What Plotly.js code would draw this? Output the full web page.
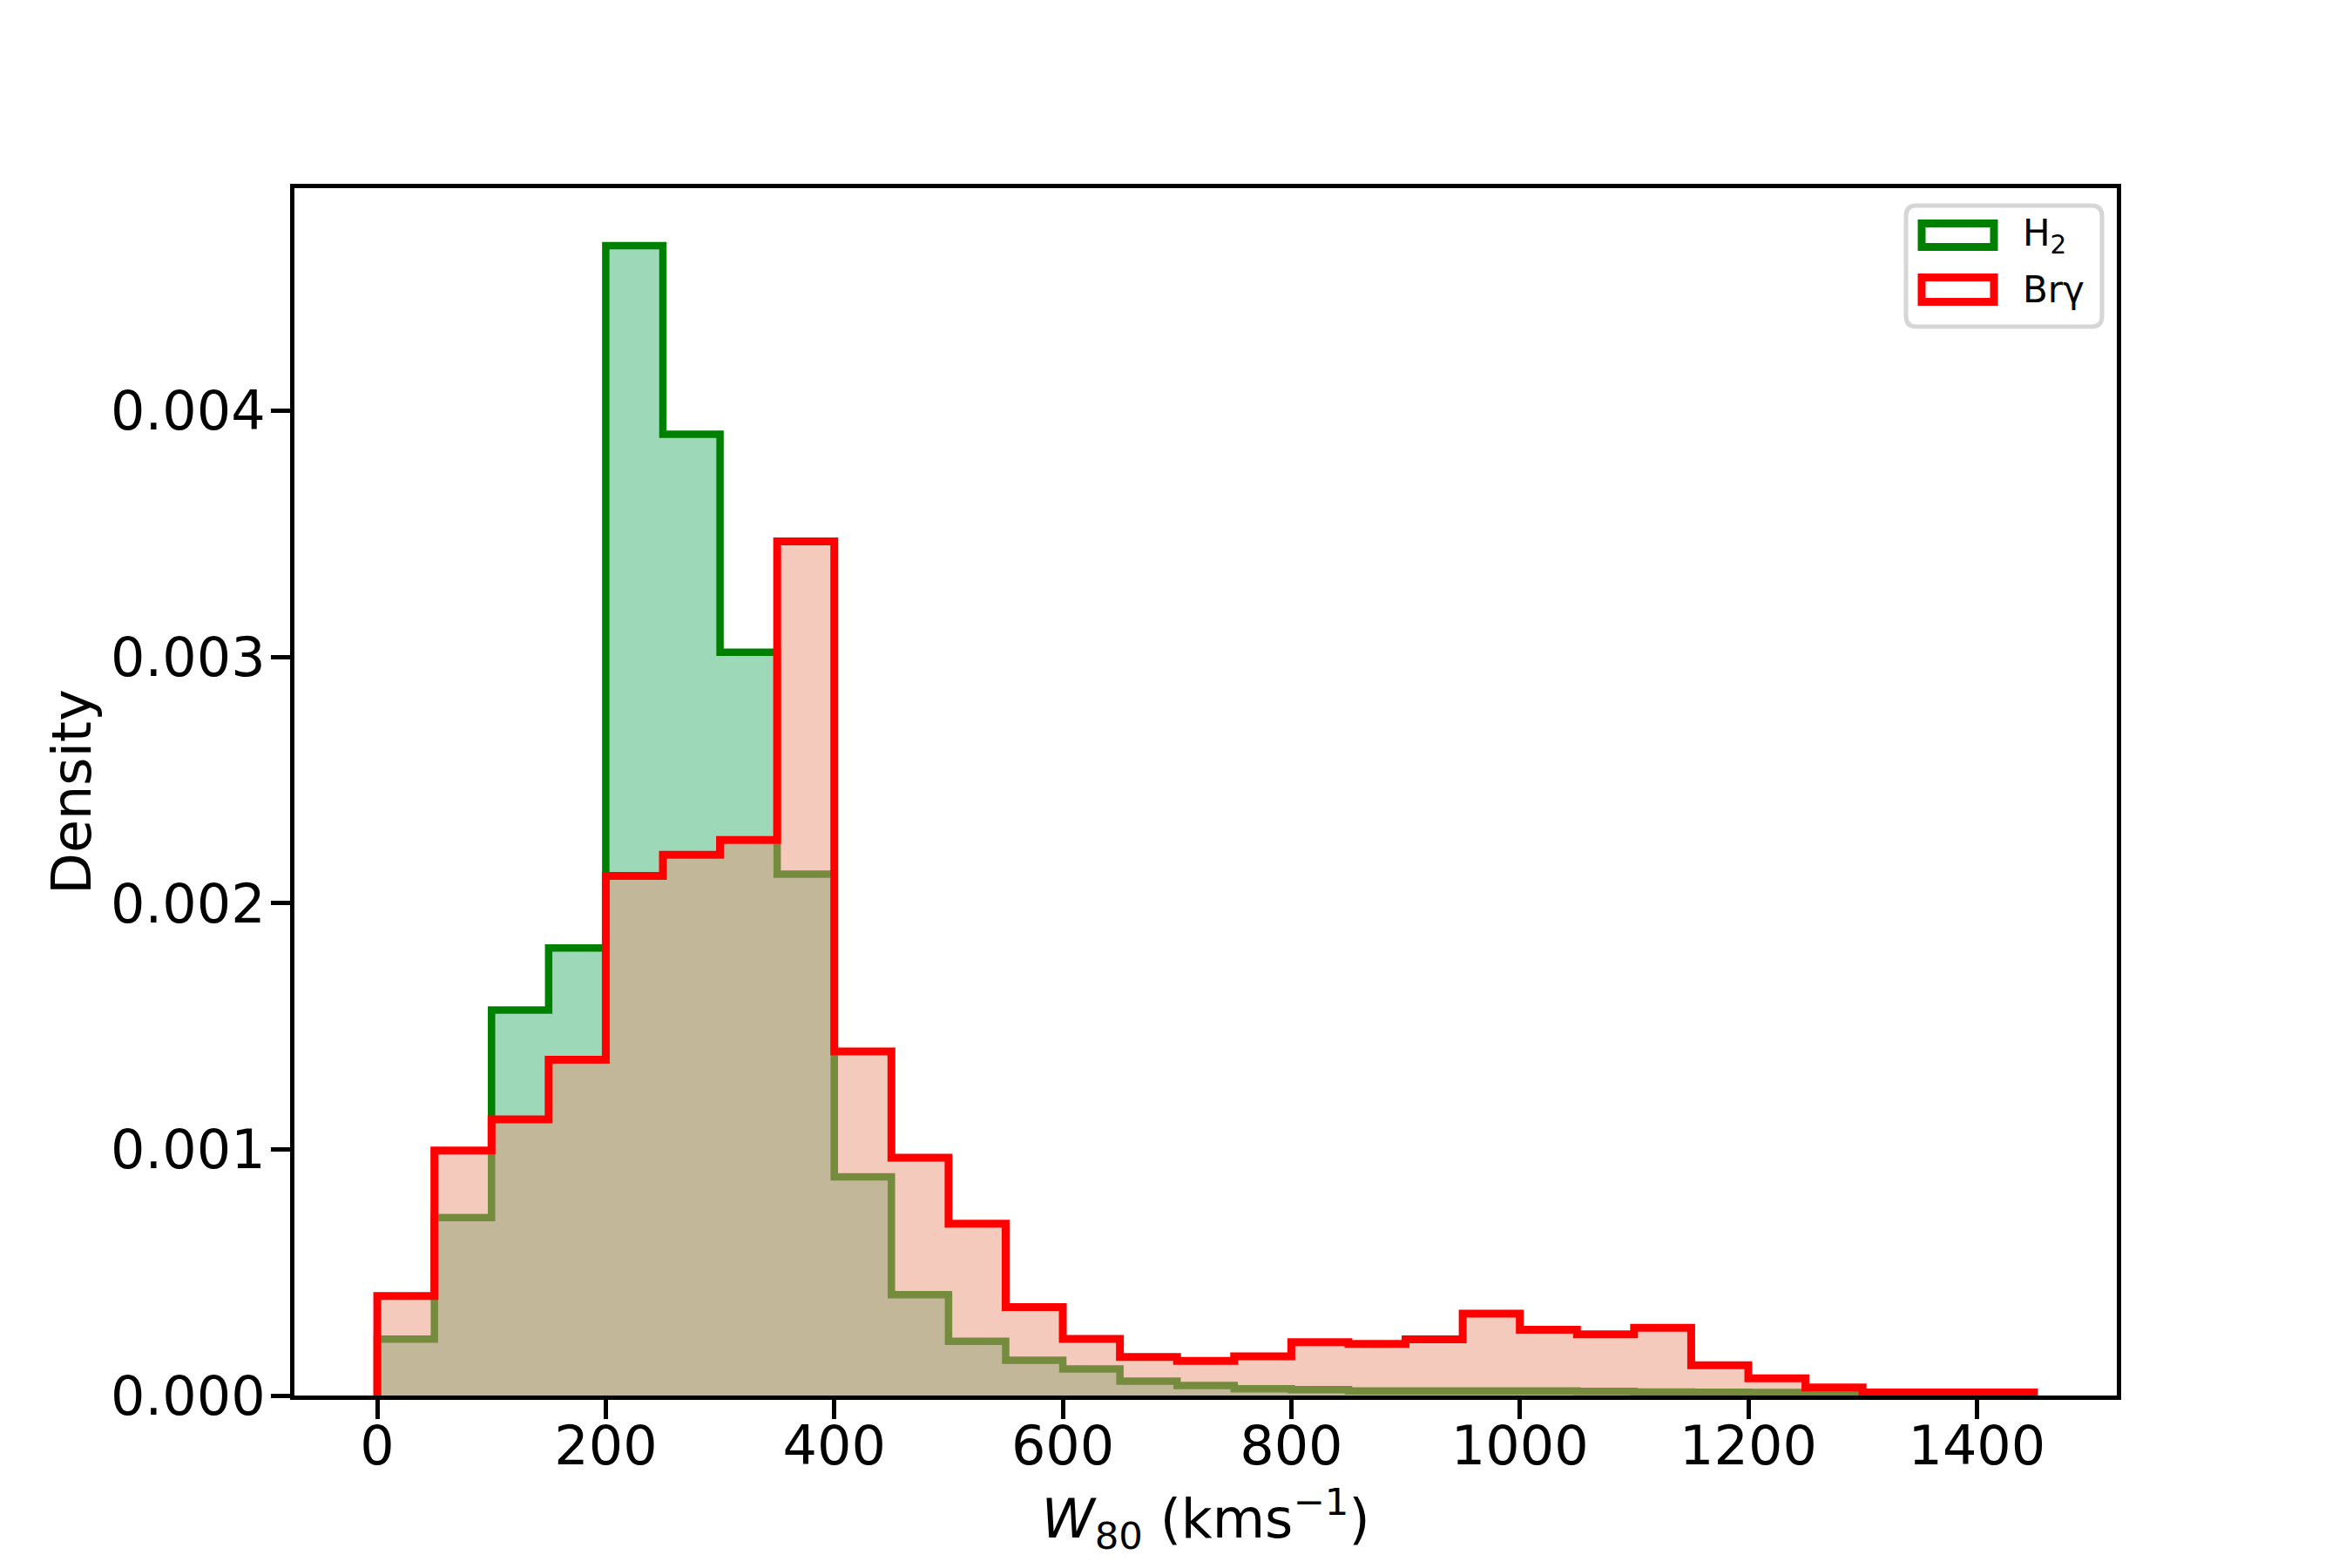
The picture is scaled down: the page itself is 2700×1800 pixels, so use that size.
<!DOCTYPE html>
<html>
<head>
<meta charset="utf-8">
<script src="https://cdn.plot.ly/plotly-3.0.1.min.js"></script>
<style>html,body{margin:0;padding:0;background:#fff;}</style>
</head>
<body>
<div id="chart" style="width:2700px;height:1800px;"></div>
<script>
// Bin edges (km/s)
const binStart = 0;
const binWidth = 50;

// Density values per 50 km/s bin
const h2Density = [0.000229, 0.000723, 0.001566, 0.001818, 0.004671, 0.003905, 0.003020, 0.002118,
  0.000888, 0.000410, 0.000220, 0.000143, 0.000108, 0.000058, 0.000041, 0.000027,
  0.000024, 0.000019, 0.000019, 0.000019, 0.000019, 0.000017, 0.000014, 0.000013,
  0.000012, 0.000011];
const brgDensity = [0.000404, 0.000995, 0.001122, 0.001364, 0.002111, 0.002197, 0.002257, 0.003470,
  0.001398, 0.000966, 0.000698, 0.000359, 0.000230, 0.000157, 0.000141, 0.000159,
  0.000217, 0.000210, 0.000228, 0.000333, 0.000267, 0.000249, 0.000275, 0.000123,
  0.000070, 0.000033, 0.000012, 0.000012, 0.000012];

const xTickVals = [0, 200, 400, 600, 800, 1000, 1200, 1400];
const yTickVals = [0, 0.001, 0.002, 0.003, 0.004];
const yTickText = ['0.000', '0.001', '0.002', '0.003', '0.004'];
const legendLabels = ['H<sub>2</sub>', 'Brγ'];

function stepPath(vals) {
  const xs = [binStart], ys = [0];
  for (let i = 0; i < vals.length; i++) {
    xs.push(binStart + i * binWidth);
    ys.push(vals[i]);
  }
  xs.push(binStart + vals.length * binWidth); ys.push(vals[vals.length - 1]);
  xs.push(binStart + vals.length * binWidth); ys.push(0);
  return {x: xs, y: ys};
}

const g = stepPath(h2Density);
const r = stepPath(brgDensity);

const traces = [
  {x: g.x, y: g.y, type: 'scatter', mode: 'lines', line: {shape: 'hv', width: 0, color: 'rgba(0,0,0,0)'},
   fill: 'tozeroy', fillcolor: 'rgba(60,179,113,0.5)', hoverinfo: 'skip', showlegend: false},
  {x: g.x, y: g.y, type: 'scatter', mode: 'lines', line: {shape: 'hv', width: 8.5, color: '#008000'},
   name: 'H2', showlegend: false},
  {x: r.x, y: r.y, type: 'scatter', mode: 'lines', line: {shape: 'hv', width: 0, color: 'rgba(0,0,0,0)'},
   fill: 'tozeroy', fillcolor: 'rgba(233,150,122,0.5)', hoverinfo: 'skip', showlegend: false},
  {x: r.x, y: r.y, type: 'scatter', mode: 'lines', line: {shape: 'hv', width: 9, color: '#ff0000'},
   name: 'Brγ', showlegend: false}
];

// plot area in pixels
const L = 338, R = 2430, T = 216, B = 1602;
const px = v => (v - L) / (R - L);
const py = v => (B - v) / (B - T);

// legend frame (rounded)
const fl = 2188, fr = 2413, ft = 236, fb = 375, rad = 12;
function framePath() {
  const P = (x, y) => px(x) + ',' + py(y);
  return 'M' + P(fl + rad, ft) + ' L' + P(fr - rad, ft) + ' Q' + P(fr, ft) + ' ' + P(fr, ft + rad) +
    ' L' + P(fr, fb - rad) + ' Q' + P(fr, fb) + ' ' + P(fr - rad, fb) +
    ' L' + P(fl + rad, fb) + ' Q' + P(fl, fb) + ' ' + P(fl, fb - rad) +
    ' L' + P(fl, ft + rad) + ' Q' + P(fl, ft) + ' ' + P(fl + rad, ft) + ' Z';
}

const shapes = [
  {type: 'path', xref: 'paper', yref: 'paper', path: framePath(),
   line: {color: '#d6d6d6', width: 5}, fillcolor: 'rgba(255,255,255,0.8)', layer: 'above'},
  {type: 'rect', xref: 'paper', yref: 'paper', x0: px(2206), x1: px(2289), y0: py(256.5), y1: py(283.5),
   line: {color: '#008000', width: 9}, fillcolor: 'rgba(0,0,0,0)', layer: 'above'},
  {type: 'rect', xref: 'paper', yref: 'paper', x0: px(2206), x1: px(2289), y0: py(318.5), y1: py(346.5),
   line: {color: '#ff0000', width: 9}, fillcolor: 'rgba(0,0,0,0)', layer: 'above'}
];

const annotations = [
  {xref: 'paper', yref: 'paper', x: px(2320), y: py(270), xanchor: 'left', yanchor: 'middle',
   text: legendLabels[0], showarrow: false, font: {size: 42, color: '#000'}},
  {xref: 'paper', yref: 'paper', x: px(2320), y: py(332), xanchor: 'left', yanchor: 'middle',
   text: legendLabels[1], showarrow: false, font: {size: 42, color: '#000'}}
];

const layout = {
  width: 2700, height: 1800,
  margin: {l: L, r: 2700 - R, t: T, b: 1800 - B, pad: 0},
  paper_bgcolor: '#fff', plot_bgcolor: '#fff',
  font: {family: 'DejaVu Sans', color: '#000', size: 62},
  showlegend: false,
  xaxis: {
    range: [-72.5, 1522.5], tickvals: xTickVals, ticks: 'outside', ticklen: 22, tickwidth: 5,
    tickcolor: '#000', showline: true, linecolor: '#000', linewidth: 5, mirror: true,
    showgrid: false, zeroline: false, tickfont: {size: 62, family: 'DejaVu Sans'},
    ticklabelstandoff: -22,
    title: {text: '<i>W</i><sub>80</sub> (kms<sup>−1</sup>)', font: {size: 62, family: 'DejaVu Sans'}, standoff: 28},
    automargin: false
  },
  yaxis: {
    range: [0, 0.004905], tickvals: yTickVals, ticktext: yTickText, ticks: 'outside', ticklen: 22, tickwidth: 5,
    tickcolor: '#000', showline: true, linecolor: '#000', linewidth: 5, mirror: true,
    showgrid: false, zeroline: false, tickfont: {size: 62, family: 'DejaVu Sans'},
    ticklabelstandoff: -6,
    title: {text: 'Density', font: {size: 62, family: 'DejaVu Sans'}, standoff: 4},
    automargin: false
  },
  shapes: shapes,
  annotations: annotations
};

Plotly.newPlot('chart', traces, layout, {displayModeBar: false, staticPlot: true});
</script>
</body>
</html>
